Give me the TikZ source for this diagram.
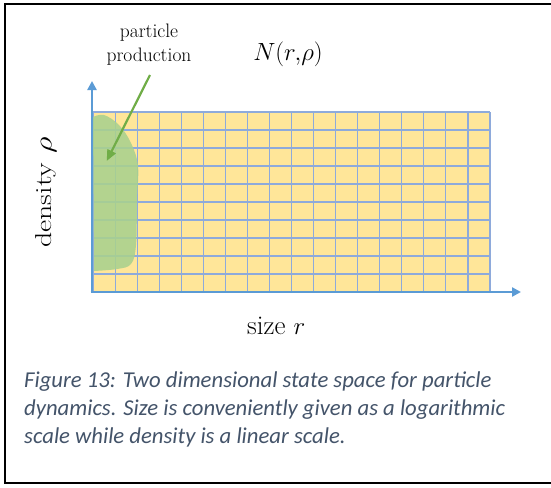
\documentclass[tikz,border=0pt]{standalone}
\usepackage{fontspec}
\newfontfamily\capfont{Carlito}
\usetikzlibrary{arrows.meta}
\definecolor{gridyellow}{HTML}{FFE699}
\definecolor{gridline}{HTML}{8EAADB}
\definecolor{axisblue}{HTML}{5B9BD5}
\definecolor{blobgreen}{HTML}{A9D18E}
\definecolor{arrowgreen}{HTML}{70AD47}
\definecolor{captext}{HTML}{44546A}
\begin{document}
\begin{tikzpicture}[x=1pt,y=-1pt,
  frame/.style={line width=2.5pt,black},
  gridln/.style={draw=gridline,line width=1.1pt},
  axisln/.style={draw=axisblue,line width=2.8pt,-{Triangle[length=9pt,width=9pt]}},
  prodarrow/.style={draw=arrowgreen,line width=2.2pt,-{Triangle[length=11pt,width=9pt]}},
  lbl/.style={inner sep=0pt,text=black}]
\useasboundingbox (0,0) rectangle (551,487);
\fill[white] (0,0) rectangle (551,487);
\draw[frame] (551,4) -- (5,4) -- (5,483) -- (551,483);
% grid
\fill[gridyellow] (93,112) rectangle (490,292);
\foreach \i in {0,...,18} \draw[gridln] ({93+\i*22.056},112) -- ({93+\i*22.056},292);
\foreach \j in {0,...,10} \draw[gridln] (93,{112+\j*18}) -- (490,{112+\j*18});
% blob
\fill[blobgreen,opacity=0.88] plot[smooth,tension=0.6] coordinates {(93,117) (104,115) (119,125) (131,143) (138,166) (137,200) (136,245) (131,264) (117,269) (94,271)} -- cycle;
% axes
\coordinate (origin) at (92,292);
\coordinate (xorigin) at (90.6,292);
\coordinate (ytip) at (92,81);
\coordinate (xtip) at (521,292);
\draw[axisln] (origin) -- (ytip);
\draw[axisln] (xorigin) -- (xtip);
% labels
\node[lbl,align=center,font=\fontsize{19.5}{24}\selectfont] (pp) at (149,45) {particle\\production};
\node[lbl,font=\fontsize{23}{28}\selectfont,anchor=base] (N) at (288,60.5) {$N(r,\!\rho)$};
\node[lbl,font=\fontsize{27}{32}\selectfont,anchor=base west] (size) at (247,334) {size $r$};
\node[lbl,font=\fontsize{23}{28}\selectfont,rotate=90,xscale=1.3] (dens) at (46,192.5) {density $\rho$};
\coordinate (astart) at (150,75);
\coordinate (aend) at (106.7,161);
\draw[prodarrow] (astart) -- (aend);
% caption
\node[lbl,anchor=north west,align=left,text=captext,font=\capfont\itshape\fontsize{22.7}{28}\selectfont] (cap) at (24,372) {Figure 13: Two dimensional state space for particle\\dynamics. Size is conveniently given as a logarithmic\\scale while density is a linear scale.};
\end{tikzpicture}
\end{document}
